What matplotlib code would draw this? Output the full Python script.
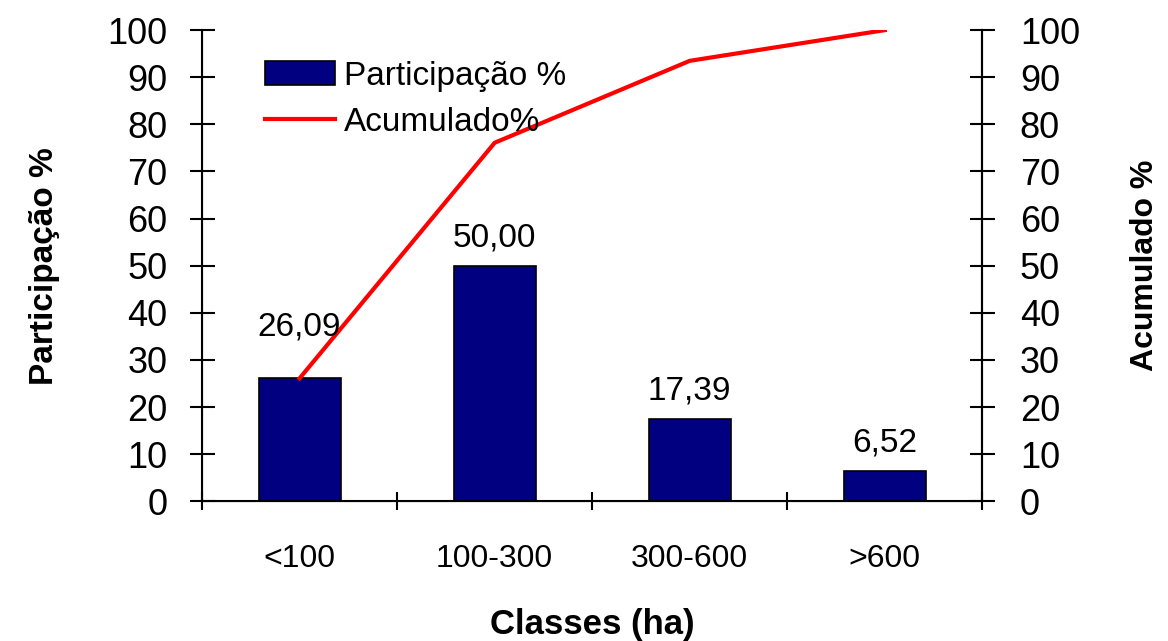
import matplotlib.pyplot as plt
import numpy as np

plt.rcParams['font.family'] = ['Liberation Sans', 'DejaVu Sans']

# data
classes = ['<100', '100-300', '300-600', '>600']
participacao = [26.09, 50.00, 17.39, 6.52]
acumulado = [26.09, 76.09, 93.48, 100.0]
bar_labels = ['26,09', '50,00', '17,39', '6,52']

fig = plt.figure(figsize=(11.68, 6.41), dpi=100)
ax = fig.add_axes([0.173, 0.218, 0.668, 0.735])
x = np.arange(len(classes))

bars = ax.bar(x, participacao, width=0.42, color='#000080', edgecolor='black',
              linewidth=1.2, label='Participação %')
line, = ax.plot(x, acumulado, color='#ff0000', linewidth=3, label='Acumulado%')

# value labels above the bars (the first one is lifted clear of the red line)
for i, (xi, v, s) in enumerate(zip(x, participacao, bar_labels)):
    off = 26 if i == 0 else 9
    ax.annotate(s, (xi, v), xytext=(0, off), textcoords='offset points',
                ha='center', va='bottom', fontsize=24)

ax.set_xlim(-0.5, len(classes) - 0.5)
ax.set_ylim(0, 100)
ax.set_yticks(np.arange(0, 101, 10))
ax.set_xticks(x)
ax.set_xticklabels(classes, fontsize=23)
ax.set_xticks(np.arange(-0.5, len(classes), 1), minor=True)
ax.tick_params(axis='x', which='major', length=0, pad=31)
ax.tick_params(axis='x', which='minor', direction='inout', length=13, width=1.5)
ax.tick_params(axis='y', direction='inout', length=18, width=1.5, labelsize=26, pad=16)
ax.spines['top'].set_visible(False)
for sp in ['left', 'right', 'bottom']:
    ax.spines[sp].set_linewidth(1.5)

ax2 = ax.twinx()
ax2.set_ylim(0, 100)
ax2.set_yticks(np.arange(0, 101, 10))
ax2.tick_params(axis='y', direction='inout', length=18, width=1.5, labelsize=26, pad=18)
ax2.spines['top'].set_visible(False)
ax2.spines['right'].set_linewidth(1.5)

ax.set_ylabel('Participação %', fontsize=24, fontweight='bold', labelpad=34)
ax2.set_ylabel('Acumulado %', fontsize=23, fontweight='bold', labelpad=36)
ax.set_xlabel('Classes (ha)', fontsize=25, fontweight='bold', labelpad=24)

ax.legend(handles=[bars, line], loc='upper left', bbox_to_anchor=(0.081, 0.935),
          frameon=False, fontsize=24, handlelength=2.1, handletextpad=0.25,
          labelspacing=0.45, borderaxespad=0, borderpad=0)

fig.savefig('out.png', dpi=100)
